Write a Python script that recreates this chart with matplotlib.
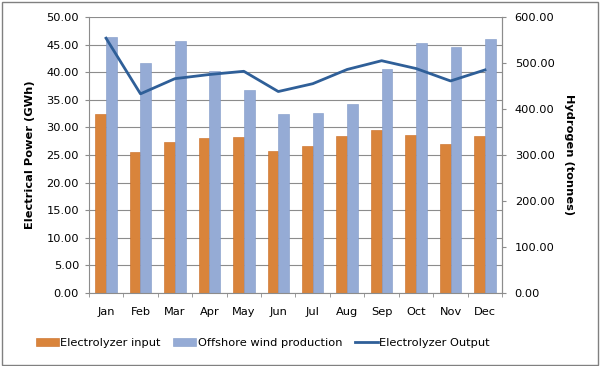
import matplotlib
matplotlib.use("Agg")
import matplotlib.pyplot as plt
import numpy as np
from matplotlib.patches import Rectangle

months = ["Jan", "Feb", "Mar", "Apr", "May", "Jun",
          "Jul", "Aug", "Sep", "Oct", "Nov", "Dec"]
# GWh, left axis
electrolyzer_input = [32.4, 25.5, 27.4, 28.0, 28.3, 25.8,
                      26.7, 28.5, 29.6, 28.6, 27.0, 28.5]
offshore_wind = [46.4, 41.7, 45.7, 40.2, 36.8, 32.4,
                 32.7, 34.3, 40.5, 45.3, 44.5, 46.0]
# tonnes, right axis
electrolyzer_output = [554, 433, 466, 475, 482, 438,
                       455, 486, 505, 488, 461, 485]

orange = "#D9843B"
blue = "#95ABD5"
line_col = "#2F5F98"
grid_col = "#8C8C8C"
fs = 8.2

fig = plt.figure(figsize=(6.0, 3.66), dpi=100)
fig.patch.set_facecolor("white")
# outer chart border
fig.patches.append(Rectangle((0.004, 0.004), 0.992, 0.99, transform=fig.transFigure,
                             fill=False, edgecolor="#808080", linewidth=1.0))

ax = fig.add_axes([0.148, 0.1995, 0.689, 0.754])
x = np.arange(len(months))
w = 0.31

b1 = ax.bar(x - w / 2, electrolyzer_input, w, color=orange, edgecolor="#C96A20",
            linewidth=0.4, label="Electrolyzer input", zorder=2)
b2 = ax.bar(x + w / 2, offshore_wind, w, color=blue, edgecolor="#8099C8",
            linewidth=0.4, label="Offshore wind production", zorder=2)

ax.set_ylim(0, 50)
ax.set_yticks(np.arange(0, 51, 5))
ax.set_yticklabels([f"{v:.2f}" for v in np.arange(0, 51, 5)])
ax.set_xlim(-0.5, 11.5)
ax.set_xticks(x)
ax.set_xticklabels(months)
ax.set_xticks(np.arange(-0.5, 12, 1), minor=True)
ax.yaxis.grid(True, color=grid_col, linewidth=0.8, zorder=0)
ax.set_axisbelow(True)
ax.spines["top"].set_visible(False)
ax.spines["left"].set_color(grid_col)
ax.spines["bottom"].set_color(grid_col)
ax.spines["right"].set_color(grid_col)
ax.tick_params(axis="y", length=3, color=grid_col, labelsize=fs, pad=4)
ax.tick_params(axis="x", which="major", length=0, labelsize=fs, pad=10)
ax.tick_params(axis="x", which="minor", length=3, color=grid_col)
ax.set_ylabel("Electrical Power (GWh)", fontsize=fs, fontweight="bold", labelpad=8)

ax2 = ax.twinx()
l1, = ax2.plot(x, electrolyzer_output, color=line_col, linewidth=2.0,
               label="Electrolyzer Output", zorder=3)
ax2.set_ylim(0, 600)
ax2.set_yticks(np.arange(0, 601, 100))
ax2.set_yticklabels([f"{v:.2f}" for v in np.arange(0, 601, 100)])
ax2.spines["top"].set_visible(False)
ax2.spines["right"].set_color(grid_col)
ax2.spines["left"].set_visible(False)
ax2.spines["bottom"].set_visible(False)
ax2.tick_params(axis="y", direction="out", length=3, color=grid_col, labelsize=fs, pad=6)
ax2.set_ylabel("Hydrogen (tonnes)", fontsize=fs, fontweight="bold",
               rotation=-90, labelpad=14)

fig.legend([b1, b2, l1],
           ["Electrolyzer input", "Offshore wind production", "Electrolyzer Output"],
           loc="center", bbox_to_anchor=(0.438, 0.063), ncol=3, frameon=False,
           fontsize=fs, handlelength=2.0, handleheight=0.6, handletextpad=0.15,
           columnspacing=1.1)

fig.savefig("out.png", dpi=100)
